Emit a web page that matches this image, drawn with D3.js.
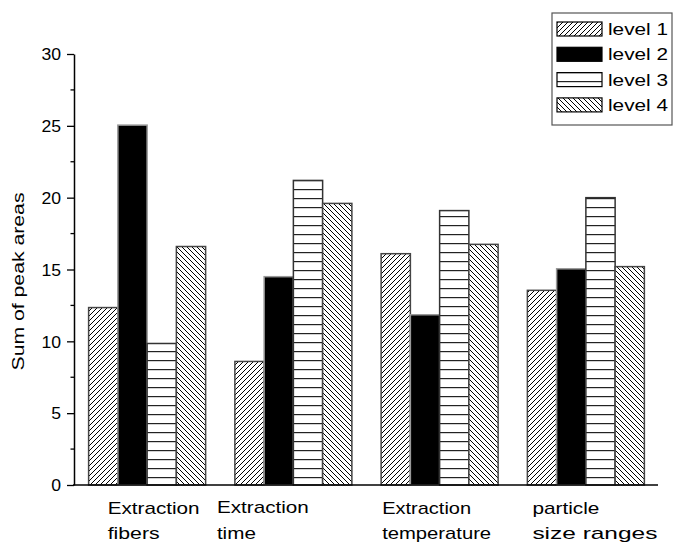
<!DOCTYPE html>
<html><head><meta charset="utf-8">
<script src="https://cdn.jsdelivr.net/npm/d3@7"></script>
<style>body{margin:0;background:#fff}svg{display:block}text{font-family:Arial,"Liberation Sans",sans-serif;fill:#000}</style>
</head><body><svg id="c" width="673" height="542"></svg>
<script>
const categories = [["Extraction","fibers"],["Extraction","time"],["Extraction","temperature"],["particle","size ranges"]];
const seriesNames = ["level 1","level 2","level 3","level 4"];
const level1 = [12.35, 8.6, 16.1, 13.55];
const level2 = [25.05, 14.5, 11.85, 15.05];
const level3 = [9.85, 21.2, 19.1, 20.0];
const level4 = [16.6, 19.6, 16.75, 15.2];
const yTicks = [0,5,10,15,20,25,30];
const yTitle = "Sum of peak areas";

const series = [level1, level2, level3, level4];
const svg = d3.select("#c");
const defs = svg.append("defs");
const p1 = defs.append("pattern").attr("id","p0").attr("patternUnits","userSpaceOnUse").attr("width",5).attr("height",5);
p1.append("rect").attr("width",5).attr("height",5).attr("fill","#fff");
p1.append("path").attr("d","M-1,6 L6,-1 M-2,2 L2,-2 M3,7 L7,3").attr("stroke","#000").attr("stroke-width",1);
const p4 = defs.append("pattern").attr("id","p3").attr("patternUnits","userSpaceOnUse").attr("width",5).attr("height",5);
p4.append("rect").attr("width",5).attr("height",5).attr("fill","#fff");
p4.append("path").attr("d","M-1,-1 L6,6 M-2,3 L2,7 M3,-2 L7,2").attr("stroke","#000").attr("stroke-width",1);
const p3 = defs.append("pattern").attr("id","p2").attr("patternUnits","userSpaceOnUse").attr("width",10).attr("height",9);
p3.append("rect").attr("width",10).attr("height",9).attr("fill","#fff");
p3.append("rect").attr("y",0).attr("width",10).attr("height",1.2).attr("fill","#222");
const fills = ["url(#p0)","#000","url(#p2)","url(#p3)"];
const strokes = ["#444","#999","#333","#444"];

const x0 = d3.scaleBand().domain(d3.range(categories.length)).range([74,659]).paddingInner(0.2).paddingOuter(0.1);
const x1 = d3.scaleBand().domain(d3.range(seriesNames.length)).range([0,x0.bandwidth()]);
const y = d3.scaleLinear().domain([0,30]).range([485,54]);

const g = svg.append("g");
categories.forEach((c,i)=>{
  series.forEach((s,j)=>{
    g.append("rect")
      .attr("x",x0(i)+x1(j)).attr("y",y(s[i]))
      .attr("width",x1.bandwidth()).attr("height",y(0)-y(s[i]))
      .attr("fill",fills[j]).attr("stroke",strokes[j]).attr("stroke-width",1.5);
  });
});

const yAxis = d3.axisLeft(y).tickValues(yTicks).tickSize(7).tickPadding(6).tickSizeOuter(0);
const ya = svg.append("g").attr("transform","translate(74,0)").call(yAxis);
ya.attr("font-family",null).attr("font-size",null);
ya.select(".domain").attr("stroke","#000").attr("stroke-width",1.5);
ya.selectAll(".tick line").attr("stroke","#000").attr("stroke-width",1.3);
ya.selectAll(".tick text").style("font-size","16px").attr("dy","0.36em").each(function(){
  const t=d3.select(this); const w=this.getComputedTextLength();
  t.attr("textLength",w*1.1).attr("lengthAdjust","spacingAndGlyphs");
});
const minor = d3.range(2.5,30,5);
svg.append("g").selectAll("line").data(minor).join("line")
  .attr("x1",70.5).attr("x2",74).attr("y1",d=>y(d)).attr("y2",d=>y(d)).attr("stroke","#000").attr("stroke-width",1.3);
svg.append("line").attr("x1",73).attr("x2",658).attr("y1",y(0)).attr("y2",y(0)).attr("stroke","#000").attr("stroke-width",1.5);

svg.append("text").attr("transform","translate(24,"+((y(0)+y(30))/2)+") rotate(-90)")
  .attr("text-anchor","middle").style("font-size","17px").attr("textLength",178).attr("lengthAdjust","spacingAndGlyphs")
  .attr("x",-12).text(yTitle);

const nudge = [19,-18,1,5];
const labelWidths = [[92,52],[92,39],[89,109],[67,125]];
categories.forEach((c,i)=>{
  c.forEach((line,k)=>{
    svg.append("text").attr("x",x0(i)+nudge[i]).attr("y",514+k*25 - (i===1&&k===0?1:0))
      .style("font-size","17px")
      .attr("textLength", labelWidths[i][k]).attr("lengthAdjust","spacingAndGlyphs")
      .text(line);
  });
});

const lg = svg.append("g");
lg.append("rect").attr("x",552).attr("y",13).attr("width",120).attr("height",112).attr("fill","#fff").attr("stroke","#555").attr("stroke-width",1.2);
seriesNames.forEach((n,j)=>{
  const yy = 22 + j*25.3;
  lg.append("rect").attr("x",557).attr("y",yy).attr("width",45).attr("height",14).attr("fill",fills[j]).attr("stroke","#000").attr("stroke-width",1.2);
  lg.append("text").attr("x",608).attr("y",yy+13).style("font-size","17px").attr("textLength",60).attr("lengthAdjust","spacingAndGlyphs").text(n);
});
</script></body></html>
